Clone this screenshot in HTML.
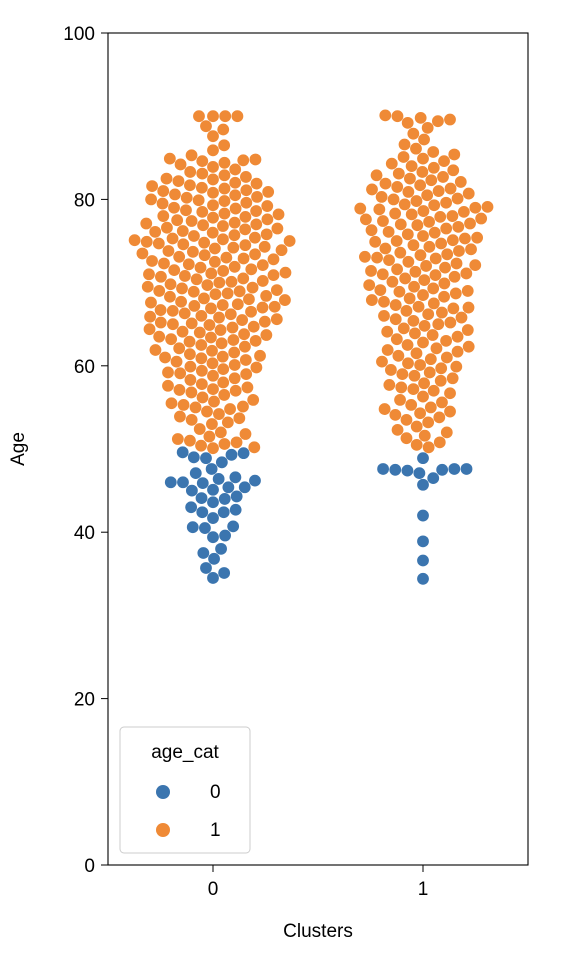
<!DOCTYPE html>
<html><head><meta charset="utf-8"><style>
html,body{margin:0;padding:0;background:#fff;}
svg text{font-family:"Liberation Sans","DejaVu Sans",sans-serif;fill:#000;}
</style></head><body>
<svg id="chart" width="562" height="968" xmlns="http://www.w3.org/2000/svg">
<g id="points"></g>
<rect x="108" y="33" width="420" height="832" fill="none" stroke="#000" stroke-width="1.1"/>
<g id="yaxis"></g>
<g id="xaxis"></g>
<text x="318" y="937" font-size="19" text-anchor="middle">Clusters</text>
<text x="0" y="0" font-size="19" text-anchor="middle" transform="translate(24,449) rotate(-90)">Age</text>
<g>
<rect x="120" y="727" width="130" height="126" rx="4" fill="#fff" stroke="#ccc" stroke-width="1"/>
<text x="185" y="758" font-size="19" text-anchor="middle">age_cat</text>
<g><circle cx="163" cy="792" r="7" fill="#3b75af"/><text x="210" y="798" font-size="19">0</text></g>
<g><circle cx="163" cy="830" r="7" fill="#ef8a36"/><text x="210" y="836" font-size="19">1</text></g>
</g>
</svg>
<script>
const categories = [0, 1];
const yTicks = [0, 20, 40, 60, 80, 100];
const c0Blue = [49.6,49.3,49.0,48.4,48.9,49.5,47.6,47.1,46.0,45.4,46.6,46.0,45.1,45.9,46.4,45.4,46.2,45.0,44.0,43.6,44.1,44.3,43.0,42.4,42.4,42.7,41.7,40.7,39.6,39.4,40.5,40.6,37.5,38.0,36.8,35.7,35.1,34.5];
const c0Orange = [90,90,90,90,88.8,88.4,87.6,86.5,85.9,85.3,
84.9,84.8,84.7,84.6,84.4,84.2,83.9,83.6,83.3,83.1,
82.9,82.7,82.5,82.4,82.2,82.0,81.9,81.7,81.6,81.4,81.3,81.1,81.0,
80.9,80.8,80.6,80.5,80.3,80.2,80.0,79.9,79.8,79.6,79.5,79.3,79.2,79.0,
78.9,78.7,78.6,78.5,78.3,78.2,78.0,77.9,77.8,77.6,77.5,77.4,77.2,77.1,77.0,
76.9,76.8,76.6,76.5,76.4,76.2,76.1,76.0,75.8,75.7,75.6,75.4,75.3,75.2,75.1,75.0,
74.9,74.8,74.7,74.6,74.5,74.3,74.2,74.1,73.9,73.8,73.7,73.5,73.4,73.3,73.1,73.0,
72.9,72.8,72.6,72.5,72.3,72.2,72.1,71.9,71.8,71.6,71.5,71.4,71.2,71.1,71.0,
70.9,70.8,70.7,70.5,70.4,70.2,70.1,70.0,69.8,69.7,69.5,69.4,69.3,69.1,69.0,68.95,
68.9,68.7,68.6,68.4,68.3,68.1,68.0,67.9,67.7,67.6,67.4,67.3,67.2,67.1,67.0,
66.9,66.7,66.6,66.5,66.3,66.2,66.0,65.9,65.8,65.6,65.5,65.3,65.2,65.1,65.0,
64.9,64.7,64.6,64.4,64.3,64.1,64.0,63.8,63.7,63.5,63.4,63.2,63.1,63.0,
62.9,62.7,62.5,62.3,62.1,61.9,61.8,61.6,61.4,61.2,61.1,61.0,
60.9,60.7,60.5,60.3,60.1,59.9,59.8,59.6,59.4,59.2,59.1,59.0,
58.8,58.5,58.3,58.0,57.8,57.6,57.4,57.2,57.1,57.0,
56.8,56.5,56.2,55.9,55.7,55.5,55.3,55.1,55.0,
54.8,54.5,54.2,53.9,53.7,53.5,53.2,53.0,
52.4,52.0,51.8,51.5,51.2,51.0,50.8,50.6,50.4,50.2,50.1];
const c1Blue = [48.9,47.6,47.5,47.6,47.4,47.5,47.6,47.1,46.5,45.7,42.0,38.9,36.6,34.4];
const c1Orange = [90.1,90.0,89.8,89.6,89.4,89.2,88.6,87.9,87.2,86.6,86.1,85.7,85.4,85.1,
84.9,84.6,84.3,84.0,83.8,83.5,83.3,83.1,
82.9,82.7,82.5,82.3,82.1,81.9,81.7,81.5,81.3,81.2,81.0,
80.9,80.7,80.5,80.3,80.1,80.0,79.8,79.6,79.4,79.3,79.1,79.0,
78.9,78.8,78.6,78.5,78.3,78.2,78.0,77.9,77.7,77.6,77.4,77.3,77.1,77.0,
76.9,76.7,76.5,76.3,76.1,76.0,75.8,75.6,75.4,75.3,75.1,75.0,
74.9,74.7,74.5,74.3,74.1,74.0,73.8,73.6,73.4,73.3,73.1,73.0,
72.9,72.7,72.5,72.3,72.1,72.0,71.8,71.6,71.4,71.3,71.1,71.0,
70.9,70.7,70.5,70.3,70.1,69.9,69.7,69.5,69.3,69.1,69.0,
68.9,68.7,68.5,68.3,68.1,67.9,67.7,67.5,67.3,67.1,67.0,
66.9,66.6,66.4,66.2,66.0,65.8,65.6,65.4,65.2,65.0,
64.8,64.5,64.3,64.1,63.9,63.7,63.5,63.2,63.0,
62.8,62.5,62.3,62.1,61.9,61.7,61.5,61.2,61.0,
60.8,60.5,60.3,60.1,59.9,59.7,59.5,59.2,59.0,
58.8,58.5,58.2,57.9,57.7,57.4,57.2,57.0,
56.7,56.3,55.9,55.6,55.3,55.0,
54.8,54.5,54.3,54.1,53.8,53.5,53.2,
52.7,52.3,52.0,51.6,51.3,
50.8,50.5,50.2];

const NS='http://www.w3.org/2000/svg';
const X0=108,X1=528,Y0=865,Y1=33;
function yScale(v){return Y0-(v-0)/(100-0)*(Y0-Y1);}
function xScale(c){return X0+(c+0.5)/2*(X1-X0);}
const D=12.2, R=5.9;
const colors=['#3b75af','#ef8a36'];

const yg=document.getElementById('yaxis');
yTicks.forEach(t=>{
  const y=yScale(t);
  const l=document.createElementNS(NS,'line');
  
  
  l.setAttribute('x1',X0-7);l.setAttribute('x2',X0);l.setAttribute('y1',y);l.setAttribute('y2',y);l.setAttribute('stroke','#000');
  yg.appendChild(l);
  const tx=document.createElementNS(NS,'text');
  
  
  tx.setAttribute('x',X0-13);tx.setAttribute('y',y+7);tx.setAttribute('font-size','19');tx.setAttribute('text-anchor','end');
  tx.textContent=t;yg.appendChild(tx);
});
const xg=document.getElementById('xaxis');
categories.forEach(c=>{
  const x=xScale(c);
  const l=document.createElementNS(NS,'line');
  
  
  l.setAttribute('x1',x);l.setAttribute('x2',x);l.setAttribute('y1',Y0);l.setAttribute('y2',Y0+7);l.setAttribute('stroke','#000');
  xg.appendChild(l);
  const tx=document.createElementNS(NS,'text');
  
  
  tx.setAttribute('x',x);tx.setAttribute('y',Y0+30);tx.setAttribute('font-size','19');tx.setAttribute('text-anchor','middle');
  tx.textContent=c;xg.appendChild(tx);
});

function swarm(pts){
  // pts: [{y,hue}] ; returns with dx
  pts.sort((a,b)=>b.y-a.y);
  const placed=[];
  pts.forEach(p=>{
    const near=placed.filter(q=>Math.abs(q.y-p.y)<D);
    const cands=[0];
    near.forEach(q=>{const dx=Math.sqrt(D*D-(q.y-p.y)**2);cands.push(q.dx+dx,q.dx-dx);});
    cands.sort((a,b)=>Math.abs(a)-Math.abs(b));
    for(const c of cands){
      if(near.every(q=>(q.dx-c)**2+(q.y-p.y)**2>=D*D-0.01)){p.dx=c;break;}
    }
    placed.push(p);
  });
  return placed;
}
const pg=document.getElementById('points');
[[c0Blue,c0Orange],[c1Blue,c1Orange]].forEach((sets,ci)=>{
  const pts=[];
  sets[0].forEach(v=>pts.push({y:yScale(v),hue:0}));
  sets[1].forEach(v=>pts.push({y:yScale(v),hue:1}));
  swarm(pts).forEach(p=>{
    const c=document.createElementNS(NS,'circle');
    
    
    c.setAttribute('cx',xScale(categories[ci])+p.dx);c.setAttribute('cy',p.y);c.setAttribute('r',R);
    c.setAttribute('fill',colors[p.hue]);
    pg.appendChild(c);
  });
});
</script>
</body></html>
